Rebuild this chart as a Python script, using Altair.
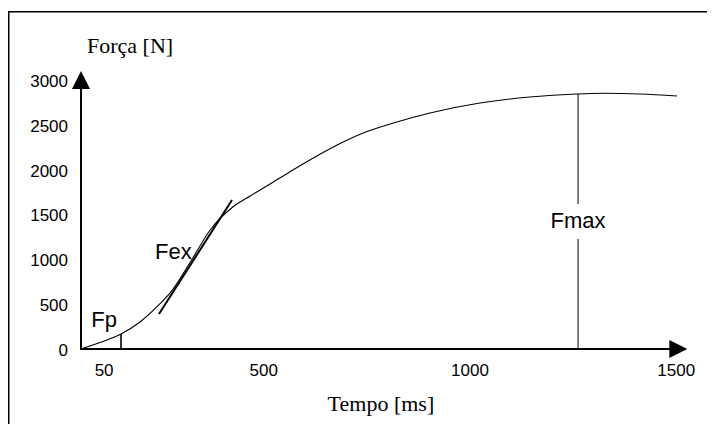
import altair as alt
import pandas as pd

# ---- data (schematic force-time curve) ----
curve_time_ms = [57, 103, 154, 200, 248, 273, 328, 370, 425, 467, 539, 595, 678, 741,
                 823, 903, 1024, 1145, 1259, 1322, 1412, 1502]
curve_force_n = [0, 72, 167, 301, 502, 625, 1015, 1327, 1584, 1706, 1907, 2063, 2275, 2409,
                 2532, 2632, 2743, 2810, 2844, 2852, 2844, 2822]

y_tick_values = [0, 500, 1000, 1500, 2000, 2500, 3000]
x_tick_labels = ["50", "500", "1000", "1500"]
x_tick_times = [113, 500, 1000, 1500]

axis_origin_time = 57
axis_end_time = 1505
axis_top_force = 3000

fex_tangent_time = [246, 423]
fex_tangent_force = [390, 1662]

fp_time = 154
fp_force = 167
fex_time = 328
fex_force = 1015
fmax_time = 1262
fmax_force = 2844
fmax_label_force = 1349
fmax_gap = [1227, 1617]

# ---- layout ----
W, H = 699, 413
PAD_TOP = 3
# view x = 49.5 + 0.4125 * t ; view y = 338 - 0.0896667 * f
XS = alt.Scale(domain=[-49.5 / 0.4125, (W - 49.5) / 0.4125], nice=False, zero=False)
YS = alt.Scale(domain=[(338 - H) / 0.0896667, 338 / 0.0896667], nice=False, zero=False)


def X(f, **kw):
    return alt.X(f"{f}:Q", scale=XS, axis=None, **kw)


def Y(f, **kw):
    return alt.Y(f"{f}:Q", scale=YS, axis=None, **kw)


SANS = "Liberation Sans"
SERIF = "Liberation Serif"

curve_df = pd.DataFrame({"t": curve_time_ms, "f": curve_force_n})
curve = alt.Chart(curve_df).mark_line(color="black", strokeWidth=1.1, interpolate="monotone").encode(
    x=X("t"), y=Y("f"))

tangent_df = pd.DataFrame({"t": fex_tangent_time, "f": fex_tangent_force})
tangent = alt.Chart(tangent_df).mark_line(color="black", strokeWidth=2).encode(x=X("t"), y=Y("f"))

# frame (top and left edges; the rest runs off the picture)
frame_top = alt.Chart(pd.DataFrame({"k": [0]})).mark_rule(color="black", strokeWidth=1.5).encode(
    x=alt.value(0), x2=alt.value(W), y=alt.value(0.75))
frame_left = alt.Chart(pd.DataFrame({"k": [0]})).mark_rule(color="black", strokeWidth=1.5).encode(
    x=alt.value(0.75), y=alt.value(0), y2=alt.value(H))

# axes lines
yaxis_df = pd.DataFrame({"t": [axis_origin_time], "f0": [0], "f1": [axis_top_force]})
yaxis = alt.Chart(yaxis_df).mark_rule(color="black", strokeWidth=2, strokeCap="square").encode(
    x=X("t"), y=Y("f0"), y2="f1:Q")
xaxis_df = pd.DataFrame({"t0": [axis_origin_time], "t1": [axis_end_time], "f": [0]})
xaxis = alt.Chart(xaxis_df).mark_rule(color="black", strokeWidth=2, strokeCap="square").encode(
    x=X("t0"), x2="t1:Q", y=Y("f"))

# arrow heads
yarrow = alt.Chart(pd.DataFrame({"t": [axis_origin_time], "f": [axis_top_force]})).mark_point(
    shape="M0,-1L1,1L-1,1Z", filled=True, size=324, color="black", opacity=1, strokeWidth=0).encode(
    x=X("t"), y=Y("f"))
xarrow = alt.Chart(pd.DataFrame({"t": [axis_end_time], "f": [0]})).mark_point(
    shape="M1,0L-1,-1L-1,1Z", filled=True, size=324, color="black", opacity=1, strokeWidth=0).encode(
    x=X("t"), y=Y("f"))

# Fp tick
fp_df = pd.DataFrame({"t": [fp_time], "f0": [0], "f1": [fp_force]})
fp_rule = alt.Chart(fp_df).mark_rule(color="black", strokeWidth=1.6).encode(x=X("t"), y=Y("f0"), y2="f1:Q")

# Fmax line (two segments around its label)
fmax_df = pd.DataFrame({"t": [fmax_time, fmax_time], "f0": [0, fmax_gap[1]], "f1": [fmax_gap[0], fmax_force]})
fmax_rule = alt.Chart(fmax_df).mark_rule(color="black", strokeWidth=1).encode(x=X("t"), y=Y("f0"), y2="f1:Q")

# tick labels
ylab_df = pd.DataFrame({"t": [axis_origin_time] * len(y_tick_values), "f": y_tick_values,
                        "txt": [str(v) for v in y_tick_values]})
ylabels = alt.Chart(ylab_df).mark_text(font=SANS, fontSize=17, align="right", baseline="middle",
                                       dx=-13, dy=2, color="black").encode(x=X("t"), y=Y("f"), text="txt:N")
xlab_df = pd.DataFrame({"t": x_tick_times, "f": [0] * len(x_tick_times), "txt": x_tick_labels})
xlabels = alt.Chart(xlab_df).mark_text(font=SANS, fontSize=17, align="center", baseline="middle",
                                       dy=22, color="black").encode(x=X("t"), y=Y("f"), text="txt:N")

# axis titles
ytitle = alt.Chart(pd.DataFrame({"t": [axis_origin_time], "f": [axis_top_force], "txt": ["Força [N]"]})).mark_text(
    font=SERIF, fontSize=22, align="left", baseline="alphabetic", dx=6, dy=-27, color="black").encode(
    x=X("t"), y=Y("f"), text="txt:N")
xtitle = alt.Chart(pd.DataFrame({"t": [784], "f": [0], "txt": ["Tempo [ms]"]})).mark_text(
    font=SERIF, fontSize=22, align="center", baseline="alphabetic", dy=62, color="black").encode(
    x=X("t"), y=Y("f"), text="txt:N")

# annotations
fp_txt = alt.Chart(pd.DataFrame({"t": [fp_time], "f": [fp_force], "txt": ["Fp"]})).mark_text(
    font=SANS, fontSize=22, align="right", baseline="alphabetic", dx=-4, dy=-7, color="black").encode(
    x=X("t"), y=Y("f"), text="txt:N")
fex_txt = alt.Chart(pd.DataFrame({"t": [fex_time], "f": [fex_force], "txt": ["Fex"]})).mark_text(
    font=SANS, fontSize=22, align="right", baseline="alphabetic", dx=-1, dy=1, color="black").encode(
    x=X("t"), y=Y("f"), text="txt:N")
fmax_txt = alt.Chart(pd.DataFrame({"t": [fmax_time], "f": [fmax_label_force], "txt": ["Fmax"]})).mark_text(
    font=SANS, fontSize=22, align="center", baseline="alphabetic", color="black").encode(
    x=X("t"), y=Y("f"), text="txt:N")

chart = alt.layer(
    frame_top, frame_left,
    curve, tangent, yaxis, xaxis, yarrow, xarrow, fp_rule, fmax_rule,
    ylabels, xlabels, ytitle, xtitle, fp_txt, fex_txt, fmax_txt
).properties(
    width=W, height=H, autosize="none",
    padding={"left": 0, "top": PAD_TOP, "right": 0, "bottom": 0}
).configure_view(stroke=None)

chart.save("out.html", embed_options={"renderer": "svg", "actions": False})
